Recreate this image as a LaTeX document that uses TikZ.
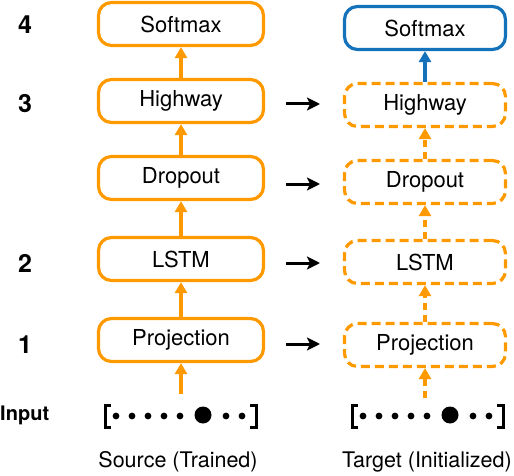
\documentclass[tikz,border=0pt]{standalone}
\usepackage{fontspec}
\setmainfont{TeX Gyre Heros}
\usetikzlibrary{arrows.meta,calc}
\definecolor{org}{RGB}{255,153,0}
\definecolor{blu}{RGB}{20,114,186}
\begin{document}
\begin{tikzpicture}[x=1pt,y=-1pt,
  layer/.style={draw=org, line width=3.2pt, rounded corners=13pt, minimum height=43pt,
    font=\fontsize{22}{26}\selectfont, inner sep=0pt},
  src/.style={layer, minimum width=165pt},
  tgt/.style={layer, dash pattern=on 9pt off 5pt, minimum width=161pt},
  tgtout/.style={layer, draw=blu, minimum width=161pt},
  up/.style={draw=org, line width=3.2pt, -{Triangle[width=12pt,length=11pt]}},
  updash/.style={up, dash pattern=on 7pt off 5pt},
  upblue/.style={up, draw=blu},
  xfer/.style={draw=black, line width=3pt, -{Stealth[width=13pt,length=13pt,inset=3pt]}},
  num/.style={font=\fontsize{25}{30}\selectfont\bfseries, inner sep=0pt},
  lab/.style={font=\fontsize{21.5}{25}\selectfont, inner sep=0pt},
  brk/.style={line width=3pt, line cap=butt},
]
\useasboundingbox (0,0) rectangle (514,476);

% source column
\node[src] (ls) at (181,24) {Softmax};
\node[src] (lh) at (181,101) {Highway};
\node[src] (ld) at (181,178) {Dropout};
\node[src] (ll) at (181,259) {LSTM};
\node[src] (lp) at (181,340) {Projection};

% target column
\node[tgtout] (rs) at (425,28) {Softmax};
\node[tgt] (rh) at (425,105) {Highway};
\node[tgt] (rd) at (425,182) {Dropout};
\node[tgt] (rl) at (425,262) {LSTM};
\node[tgt] (rp) at (425,345) {Projection};

% layer numbers
\node[num] (n4) at (25,25) {4};
\node[num] (n3) at (25,104) {3};
\node[num] (n2) at (25,263) {2};
\node[num] (n1) at (25,345) {1};
\node[font=\fontsize{20}{24}\selectfont\bfseries, inner sep=0pt, anchor=west] (inp) at (0,415) {Input};

% input vectors
\coordinate (li) at (181,394);
\coordinate (ri) at (425,398);
\foreach \cx/\nm in {0/la, 247/ra}{
  \begin{scope}[shift={(\cx,0)}]
    \draw[brk] (111,405) -- (105,405) -- (105,427) -- (111,427);
    \draw[brk] (250,405) -- (256,405) -- (256,427) -- (250,427);
    \foreach \dx in {116,132,148,164,180,226,242}{
      \fill (\dx,416) circle (3.4pt);
    }
    \fill (203,415) circle (8.5pt);
  \end{scope}
}

% bottom labels
\node[lab] (srcl) at (178,462) {Source (Trained)};
\node[lab] (tgtl) at (427,462) {Target (Initialized)};

% source arrows
\draw[up] (li) -- (lp.south);
\draw[up] (lp.north) -- (ll.south);
\draw[up] (ll.north) -- (ld.south);
\draw[up] (ld.north) -- (lh.south);
\draw[up] (lh.north) -- (ls.south);

% target arrows
\draw[updash] (ri) -- (rp.south);
\draw[updash] (rp.north) -- (rl.south);
\draw[updash] (rl.north) -- (rd.south);
\draw[updash] (rd.north) -- (rh.south);
\draw[upblue] (rh.north) -- (rs.south);

% transfer arrows
\foreach \n/\yy in {h/104, d/184, l/263, p/344}{
  \coordinate (a\n) at (286,\yy);
  \coordinate (b\n) at (320,\yy);
  \draw[xfer] (a\n) -- (b\n);
}
\end{tikzpicture}
\end{document}
